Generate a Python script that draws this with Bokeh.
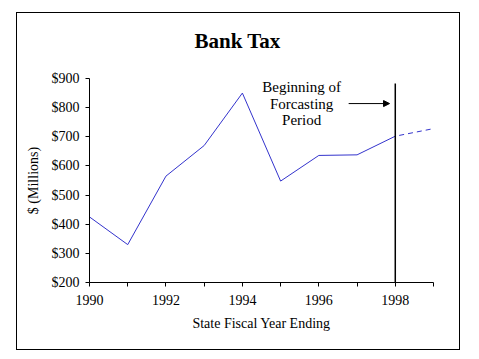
from bokeh.plotting import figure
from bokeh.embed import file_html
from bokeh.resources import INLINE
from bokeh.models import FixedTicker, Label, Arrow, NormalHead, Range1d, NumeralTickFormatter, InlineStyleSheet

years = [1990, 1991, 1992, 1993, 1994, 1995, 1996, 1997, 1998]
bank_tax = [425, 330, 565, 670, 850, 548, 636, 638, 702]
forecast_years = [1998, 1999]
forecast_vals = [702, 728]
x_ticks = [1990, 1992, 1994, 1996, 1998]
x_minor = [1991, 1993, 1995, 1997, 1999]
y_ticks = [200, 300, 400, 500, 600, 700, 800, 900]
title_text = "Bank Tax"
note_lines = ["Beginning of", "Forcasting", "Period"]

FONT = "Liberation Serif"
BLUE = "#3333CC"

border_css = InlineStyleSheet(css=""":host { position: relative; }
:host::after { content: ""; position: absolute; box-sizing: border-box;
  left: 16px; top: 12px; right: 11px; bottom: 1px;
  border: 1.5px solid black; pointer-events: none; }""")

p = figure(width=471, height=351, output_backend="svg", toolbar_location=None,
           x_range=Range1d(1990, 1999), y_range=Range1d(200, 900),
           min_border_left=89, min_border_right=38, min_border_top=78, min_border_bottom=69,
           stylesheets=[border_css])
p.outline_line_color = None
p.grid.visible = False
p.background_fill_color = "white"
p.border_fill_color = "white"

p.title.text = title_text
p.title.align = "left"
p.title.offset = 105
p.title.standoff = 51
p.title.text_font = FONT
p.title.text_font_size = "21px"
p.title.text_font_style = "bold"
p.title.text_color = "black"

p.line(years, bank_tax, line_color=BLUE, line_width=1)
p.line(forecast_years, forecast_vals, line_color=BLUE, line_width=1, line_dash="5 4", line_dash_offset=5)

# vertical marker at start of forecast
p.segment(x0=[forecast_years[0]], y0=[200], x1=[forecast_years[0]], y1=[883], line_color="black", line_width=1.5)

p.add_layout(Arrow(end=NormalHead(size=6, fill_color="black", line_color="black"),
                   x_start=1996.78, y_start=814, x_end=1997.85, y_end=814,
                   line_color="black", line_width=1))

for i, t in enumerate(note_lines):
    p.add_layout(Label(x=1995.55, y=870 - i * 57, text=t, text_align="center", text_baseline="middle",
                       text_font=FONT, text_font_size="15px", text_color="black"))

# axes
p.xaxis.ticker = FixedTicker(ticks=x_ticks, minor_ticks=x_minor)
p.xaxis.axis_label = "State Fiscal Year Ending"
p.yaxis.ticker = FixedTicker(ticks=y_ticks)
p.yaxis.formatter = NumeralTickFormatter(format="$0")
p.yaxis.axis_label = "$ (Millions)"
for ax in (p.xaxis[0], p.yaxis[0]):
    ax.axis_line_color = "black"
    ax.axis_line_width = 1
    ax.major_tick_line_color = "black"
    ax.major_tick_in = 0
    ax.major_tick_out = 4
    ax.minor_tick_line_color = "black"
    ax.minor_tick_in = 0
    ax.minor_tick_out = 4
    ax.major_label_text_font = FONT
    ax.major_label_text_font_size = "14px"
    ax.major_label_text_color = "black"
    ax.axis_label_text_font = FONT
    ax.axis_label_text_font_size = "14px"
    ax.axis_label_text_font_style = "normal"
    ax.axis_label_text_color = "black"
p.yaxis.minor_tick_line_color = None
p.xaxis.major_label_standoff = 8
p.xaxis.axis_label_standoff = 8
p.yaxis.major_label_standoff = 6
p.yaxis.axis_label_standoff = 8

open("out.html", "w").write(file_html(p, INLINE))
